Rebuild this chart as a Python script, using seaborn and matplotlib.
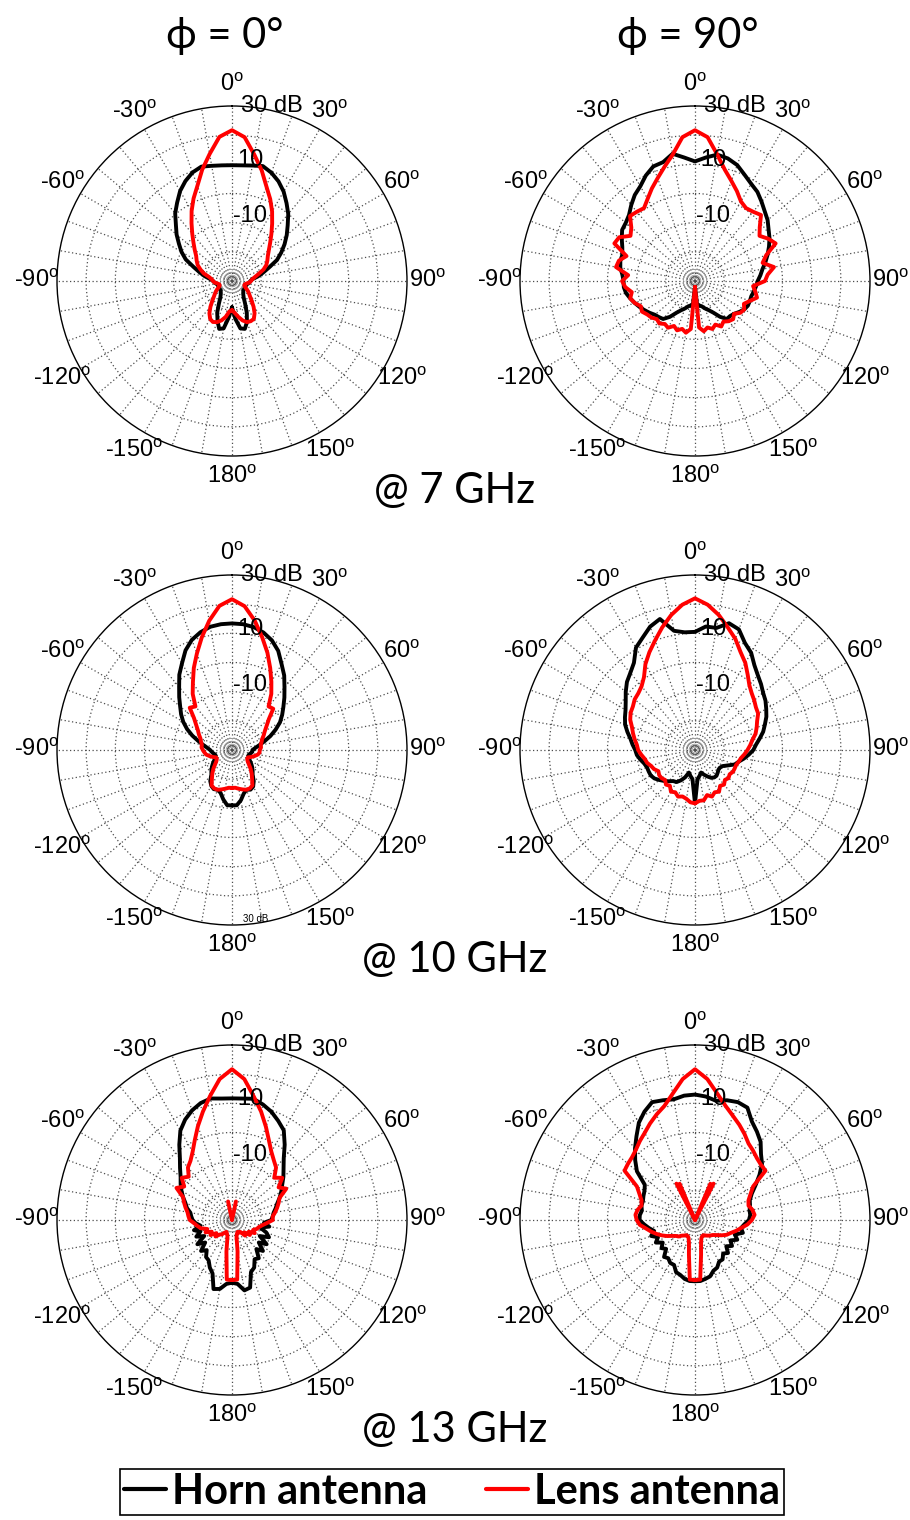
import numpy as np
import pandas as pd
import seaborn as sns
import matplotlib.pyplot as plt
from matplotlib.lines import Line2D

# sample angles (deg) shared by every measured pattern, -180 ... 180
ANGLES = list(range(-180, 185, 5))

# gains in dB, one value per angle above
horn_7_phi0 = [-21, -17.5, -13.5, -13, -15.5, -18, -21, -23, -24, -24.5, -25, -25,
               -25, -25, -25, -25, -24.5, -24, -23.5, -22.5, -20.5, -18.5, -16, -12.5,
               -10, -7.8, -5.2, -2.8, 0.3, 2.8, 5.6, 7.8, 9.6, 10.6, 10.1, 9.8,
               9.7,
               9.8, 10.2, 10.8, 9.5, 7.7, 5.4, 2.6, 0, -3, -5.5, -8, -10.5,
               -13, -16.5, -19, -21, -23, -23.7, -24, -24.5, -25, -25, -25, -25,
               -25, -25, -24.5, -24, -23, -21, -18, -15, -13, -13.5, -17, -21]
lens_7_phi0 = [-20, -19.5, -17.5, -16, -15, -14.5, -15, -16.5, -18.5, -20.5, -22, -23,
               -24, -25, -25.5, -25.5, -25, -24, -23.5, -23, -22, -20, -18.5, -17,
               -16, -15, -13.3, -11.3, -8.8, -5.8, -2.3, 1.2, 4.7, 9.5, 14.2, 19.6,
               21.7,
               19.5, 14, 9.3, 4.5, 1.0, -2.5, -6, -9, -11.5, -13.5, -15, -16,
               -17, -18.5, -20.5, -22, -23, -23.5, -24, -25, -25.5, -25.5, -25, -24,
               -23, -22, -20.5, -18.5, -16.5, -15, -14.8, -15, -16, -17.5, -19, -20]

horn_7_phi90 = [-28, -22, -21.5, -21, -20, -19, -17.5, -15, -13, -12.5, -12, -11,
                -10, -9, -8, -7, -6, -5.5, -5.5, -5, -4, -3.5, -3.5, -2.5,
                -1, 0.5, 1, 2, 4, 6, 7.5, 9.9, 11.8, 12.2, 14.3, 12.5,
                11,
                12.5, 14, 13.5, 12.3, 10.2, 8.5, 7.3, 5.5, 3.8, 2.5, 0.8, -0.5,
                -2, -3.5, -5, -6.5, -7.5, -8.5, -9, -9.5, -10, -10, -10, -10.5,
                -11.5, -12.5, -13, -13, -15, -17.5, -19, -20, -21, -21.5, -22, -28]
lens_7_phi90 = [-28, -13.5, -12, -13, -12, -13, -11.5, -12, -11, -11.5, -10.5, -10,
                -9, -9.5, -8, -7, -8, -6, -5, -7, -2.5, -3, -5, 0.5,
                0, -3, -1.5, 1.5, 1, 0.5, 2.5, 5, 7.5, 10.5, 14, 19.5,
                21.7,
                19.5, 14, 9.5, 6.5, 4, 1.5, 0.5, 1, 2, -1, -3, -1,
                0.5, -4, -6, -2.5, -5, -6, -10, -9, -8, -10, -11.5, -10.5,
                -11, -12.5, -11.5, -12, -13, -12, -13.5, -12.5, -13.5, -12.5, -14, -28]

horn_10_phi0 = [-11, -11, -12.8, -14.8, -15.5, -15.2, -15.8, -17, -19, -20, -21, -22,
                -23, -23.5, -24, -24, -23.5, -23, -22.5, -21.5, -20, -18, -15.5, -13,
                -10.7, -8.7, -6.8, -4.4, -1.8, 1.5, 4.3, 7.7, 10.2, 11.8, 12.9, 13.3,
                13.4,
                13.3, 12.8, 11.7, 10, 7.5, 4, 1.2, -2, -4.6, -7, -9, -11,
                -13.5, -16, -18.5, -20.5, -22, -23, -23, -23.5, -24, -24, -23.5, -23,
                -22, -21, -20, -19, -17, -15.5, -15, -15.5, -14.5, -12.5, -11, -11]
lens_10_phi0 = [-17, -17, -16.5, -16, -15.5, -15.5, -16, -18, -19.5, -21, -22.5, -23.5,
                -24, -24, -23, -22, -21, -20.5, -20, -19.5, -19.5, -19, -18.5, -17.5,
                -16.5, -15, -13, -9.5, -10.5, -6.5, -3.2, 1, 5.2, 10, 15, 19.6,
                21.7,
                19.5, 15, 10, 5.5, 1, -3, -6.5, -10.5, -10, -13.5, -15.5, -17,
                -18, -19, -19.5, -20, -20, -20.5, -20.5, -21, -22, -23, -24, -24,
                -23.5, -22.5, -21, -19.5, -18, -16, -15.5, -15.5, -16, -16.5, -17, -17]

horn_10_phi90 = [-11.7, -20, -21, -22, -20, -18.5, -17.3, -17, -16, -15, -14, -13,
                 -12.5, -12.5, -12.5, -12, -11, -10, -9.5, -8.5, -7.5, -6, -4.5, -3.5,
                 -2.5, -1, 1, 3, 4.5, 6.5, 10.5, 12.5, 15, 16.5, 11.5, 10.5,
                 10.5,
                 12.5, 12.5, 15, 14, 10.5, 8.5, 5.5, 3.5, 2, 0.5, -0.5, -1.8,
                 -3, -4.5, -5.8, -7.5, -9, -10, -11.5, -13, -14.5, -15.5, -17.5, -19,
                 -19.5, -19.5, -19, -18.5, -18.5, -19, -20, -21, -22, -21, -20, -11.7]
lens_10_phi90 = [-11.7, -12, -13, -13.5, -13, -14, -13.5, -15, -14.5, -15.5, -15, -15,
                 -15.5, -14.5, -14, -13, -12.5, -11.5, -10.5, -10, -9, -8, -7, -5.5,
                 -4.5, -4, -3, -2.5, -1.5, 0.5, 4, 7, 10, 13.5, 17, 20,
                 22,
                 20, 17, 13.5, 10.5, 7, 4.5, 1.5, -1, -2.5, -3.5, -4.5, -5,
                 -6.5, -7.5, -8.5, -10, -11, -12, -13, -14, -14.5, -15, -15, -15,
                 -15.5, -15, -15.5, -14.5, -15, -13.5, -14, -13, -14, -12.5, -12.5, -11.7]

horn_13_phi0 = [-8.5, -8, -6, -5.5, -10.5, -12, -14, -14.5, -16.5, -15, -18, -15.5,
                -19, -16.5, -18.5, -16.5, -19, -17.5, -16.5, -16, -15.5, -14, -13, -11.5,
                -10, -8.5, -7, -4.8, -2.2, 1.5, 5.4, 8, 10, 11.5, 12.3, 11.8,
                11.7,
                11.8, 12.2, 11, 9.5, 7.5, 5.5, 1.5, -2.4, -5, -7, -9, -10.5,
                -12, -13.5, -14.5, -15.5, -16, -16.5, -19, -17, -20, -17.5, -16, -19,
                -15.5, -18, -15, -17, -14, -14.5, -12, -11, -6, -5.5, -8, -8.5]
lens_13_phi0 = [-9.4, -9.5, -19, -24, -25, -25.5, -25, -24, -23.5, -22, -23, -21,
                -22, -20, -21, -19, -18, -17, -15.5, -15, -14.5, -13.5, -12.5, -11.5,
                -8, -10, -7.5, -9, -6.5, -5.2, -3, 0.2, 4.2, 8.5, 13.2, 18.5,
                21.7,
                18.5, 13, 8.5, 4, 0, -3, -5, -6.5, -9.5, -7.5, -10.5, -8.5,
                -12, -13, -14, -15, -16, -16, -18, -19.5, -20.5, -21, -22, -21,
                -23, -22, -24, -23, -25, -25, -25.5, -25, -24, -19, -9.5, -9.4]

horn_13_phi90 = [-9, -9, -9.5, -10.5, -11, -13, -13, -14, -13.5, -16, -15, -16.5,
                 -14.5, -16, -14, -15.5, -14, -12.5, -11, -11, -11.5, -11, -11, -10.5,
                 -10, -9, -4, -1, 2, 5, 8.5, 11, 13, 12.5, 12, 12.8,
                 13,
                 12.5, 11.5, 12.5, 13, 12.5, 9, 7, 5, 2, 0, -3, -6,
                 -8.5, -10, -10.5, -11, -11, -11.5, -13, -14, -13, -15.5, -14, -16,
                 -14.5, -16, -14, -15, -13.5, -13.5, -12, -11.5, -10, -9.5, -9, -9]
lens_13_phi90 = [-9.4, -9.5, -18, -22, -23.5, -24, -24, -23.5, -23, -22, -21.5, -20.5,
                 -19, -17.5, -16, -14.5, -13, -11, -10, -9.5, -10, -11, -10.5, -9,
                 -7, -0.5, 0, 0.5, 1.5, 3, 4.5, 6.5, 8.5, 10.5, 14, 18.5,
                 21.7,
                 18.5, 14, 10.5, 8, 6, 4, 2, 1, 0, -0.5, -0.5, -7,
                 -9, -10.5, -11, -10, -9.5, -10.5, -12, -14, -15.5, -17, -18, -19.5,
                 -21, -22, -22.5, -23, -23.5, -24, -24, -23.5, -22, -18, -9.5, -9.4]

# short radial spikes of the lens trace near the centre (angle deg, dB)
spike_13_phi0_ang = [-12, 12]
spike_13_phi0_db = [-23.5, -23.5]
spike_13_phi90_ang = [-27, -23, 23, 27]
spike_13_phi90_db = [-16, -16.5, -16.5, -16]

col_titles = ['ϕ = 0°', 'ϕ = 90°']
freq_labels = ['@ 7 GHz', '@ 10 GHz', '@ 13 GHz']
series_names = ['Horn antenna', 'Lens antenna']
colors = {'Horn antenna': 'black', 'Lens antenna': 'red'}

panels = [
    (0, 0, horn_7_phi0, lens_7_phi0, None, None),
    (0, 1, horn_7_phi90, lens_7_phi90, None, None),
    (1, 0, horn_10_phi0, lens_10_phi0, None, None),
    (1, 1, horn_10_phi90, lens_10_phi90, None, None),
    (2, 0, horn_13_phi0, lens_13_phi0, spike_13_phi0_ang, spike_13_phi0_db),
    (2, 1, horn_13_phi90, lens_13_phi90, spike_13_phi90_ang, spike_13_phi90_db),
]

sns.set_style('white')
plt.rcParams['font.family'] = ['Liberation Sans', 'DejaVu Sans']
plt.rcParams['mathtext.fontset'] = 'custom'
plt.rcParams['mathtext.rm'] = 'Liberation Sans'
plt.rcParams['mathtext.it'] = 'Liberation Sans:italic'
plt.rcParams['text.color'] = 'black'
plt.rcParams['xtick.color'] = 'black'
plt.rcParams['xtick.labelcolor'] = 'black'

fig = plt.figure(figsize=(9.1, 15.2), dpi=100)

W, H = 910.0, 1520.0
centers_x = [232, 695]
centers_y = [281, 750, 1220]
R = 175

tick_deg = list(range(0, 360, 10))
tick_labels = []
for d in tick_deg:
    if d % 30:
        tick_labels.append('')
    else:
        v = d if d <= 180 else d - 360
        tick_labels.append(f'{v}$^\\mathrm{{o}}$')

ring_theta = np.linspace(0, 2 * np.pi, 361)

for row, col, horn, lens, sp_ang, sp_db in panels:
    cx, cy = centers_x[col], centers_y[row]
    ax = fig.add_axes([(cx - R) / W, (H - cy - R) / H, 2 * R / W, 2 * R / H],
                      projection='polar')
    ax.set_theta_zero_location('N')
    ax.set_theta_direction(-1)

    df = pd.DataFrame({
        'theta': np.deg2rad(ANGLES * 2),
        'gain': horn + lens,
        'antenna': [series_names[0]] * len(ANGLES) + [series_names[1]] * len(ANGLES),
    })
    sns.lineplot(data=df, x='theta', y='gain', hue='antenna', hue_order=series_names,
                 palette=colors, sort=False, estimator=None, linewidth=2.8,
                 legend=False, ax=ax, zorder=3)
    if sp_ang is not None:
        for a, db in zip(sp_ang, sp_db):
            ax.plot([np.deg2rad(a)] * 2, [-30, db], color='red', lw=2.8, zorder=4)

    # tiny rings at the centre, as in the original MATLAB polar plot
    for rr in [-29, -28, -27, -26]:
        ax.plot(ring_theta, [rr] * len(ring_theta), color='0.6', lw=0.6, zorder=1)

    ax.set_ylim(-30, 30)
    ax.set_yticks([-20, -10, 0, 10, 20])
    ax.set_yticklabels([])
    ax.set_xticks(np.deg2rad(tick_deg))
    ax.set_xticklabels(tick_labels, fontsize=17, color='black')
    ax.tick_params(axis='x', pad=8, length=0)
    ax.grid(True, color='0.3', linestyle=(0, (1, 2)), linewidth=0.9)
    ax.set_axisbelow(True)
    ax.spines['polar'].set_color('black')
    ax.spines['polar'].set_linewidth(1.0)
    ax.set_xlabel('')
    ax.set_ylabel('')

    ax.text(np.deg2rad(13), 31.5, '30 dB', fontsize=17, ha='center', va='center')
    ax.text(np.deg2rad(8.5), 12, '10', fontsize=17, ha='center', va='center')
    ax.text(np.deg2rad(15.5), -7, '-10', fontsize=17, ha='center', va='center')
    if row == 1 and col == 0:
        ax.text(np.deg2rad(172), 28.5, '30 dB', fontsize=7, ha='center', va='center')

title_font = ['Lato', 'DejaVu Sans']
for col, t in enumerate(col_titles):
    fig.text(centers_x[col] / W - 0.008, 1 - 36 / H, t, fontsize=30, ha='center',
             va='center', family=title_font)
for row, t in enumerate(freq_labels):
    fig.text(455 / W, 1 - (centers_y[row] + 210) / H, t, fontsize=30, ha='center',
             va='center', family=title_font)

handles = [Line2D([], [], color=colors[n], lw=3) for n in series_names]
leg = fig.legend(handles, series_names, loc='center', ncol=2,
                 bbox_to_anchor=(452 / W, 1 - 1492 / H), frameon=True,
                 fancybox=False, edgecolor='black', framealpha=1,
                 prop={'family': title_font, 'weight': 'bold', 'size': 30},
                 handlelength=1.0, handletextpad=0.15, columnspacing=1.4,
                 borderpad=0.1, borderaxespad=0)
leg.get_frame().set_linewidth(1.2)

fig.savefig('out.png', dpi=100)
